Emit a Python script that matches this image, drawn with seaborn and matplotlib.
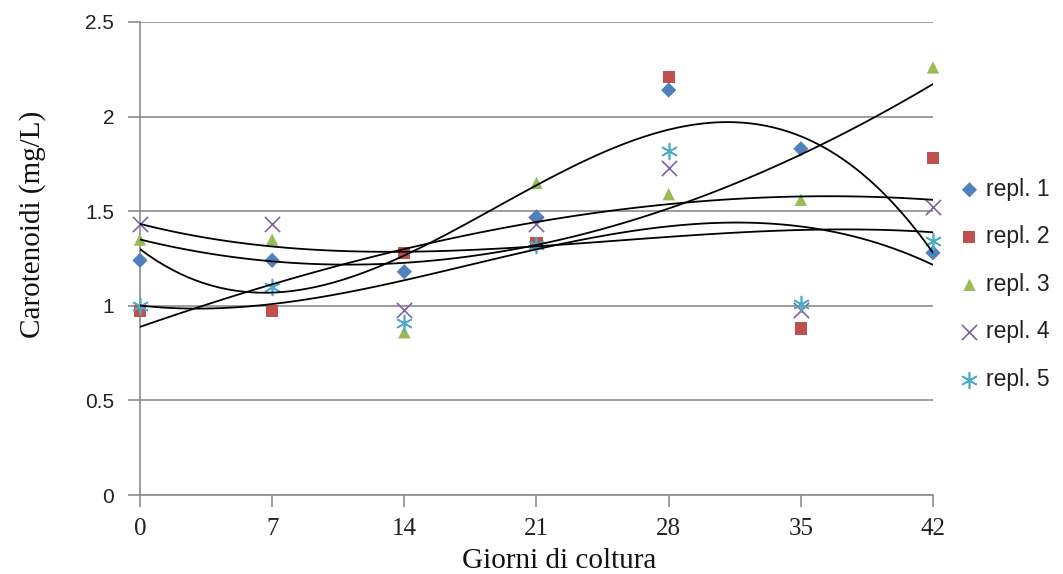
import numpy as np
import pandas as pd
import matplotlib
matplotlib.use("Agg")
import matplotlib.pyplot as plt
import seaborn as sns

# Culture days and carotenoid readings for each replicate (mg/L)
giorni = [0, 7, 14, 21, 28, 35, 42]
repl_1 = [1.24, 1.24, 1.18, 1.47, 2.14, 1.83, 1.28]
repl_2 = [0.97, 0.97, 1.28, 1.33, 2.21, 0.88, 1.78]
repl_3 = [1.35, 1.35, 0.86, 1.65, 1.59, 1.56, 2.26]
repl_4 = [1.43, 1.43, 0.98, 1.43, 1.73, 0.98, 1.52]
repl_5 = [1.00, 1.10, 0.91, 1.32, 1.82, 1.01, 1.34]

serie = ["repl. 1", "repl. 2", "repl. 3", "repl. 4", "repl. 5"]
valori = [repl_1, repl_2, repl_3, repl_4, repl_5]
colori = ["#4F81BD", "#C0504D", "#9BBB59", "#8064A2", "#4BACC6"]
marcatori = ["D", "s", "^", "x", (6, 2, 0)]
dimensioni = [60, 75, 80, 120, 130]

df = pd.DataFrame({
    "giorno": np.tile(giorni, len(serie)),
    "valore": np.concatenate(valori),
    "serie": np.repeat(serie, len(giorni)),
})

sns.set_style("white")
plt.rcParams["font.family"] = ["Liberation Sans", "DejaVu Sans"]

fig = plt.figure(figsize=(10.63, 5.74), dpi=100)
ax = fig.add_axes([0.1317, 0.1376, 0.7460, 0.8241])

for nome, col, mk, sz in zip(serie, colori, marcatori, dimensioni):
    sub = df[df["serie"] == nome]
    lw = 1.2 if (mk == "x" or isinstance(mk, tuple)) else 0
    sns.scatterplot(data=sub, x="giorno", y="valore", ax=ax, color=col,
                    marker=mk, s=sz, linewidth=lw, edgecolor=col if lw else "none",
                    label=nome, zorder=3, clip_on=False)

# third-order polynomial trendline for every replicate
for nome in serie:
    sub = df[df["serie"] == nome]
    sns.regplot(data=sub, x="giorno", y="valore", ax=ax, order=3, ci=None,
                scatter=False, truncate=True,
                line_kws={"color": "black", "lw": 1.3, "zorder": 4})

ax.set_xlim(0, 42)
ax.set_ylim(0, 2.5)
ax.set_xticks(giorni)
ax.set_yticks([0, 0.5, 1, 1.5, 2, 2.5])
ax.set_yticklabels(["0", "0.5", "1", "1.5", "2", "2.5"])
ax.yaxis.grid(True, color="#8c8c8c", lw=1.2)
ax.xaxis.grid(False)
ax.set_axisbelow(True)

for s in ("top", "right"):
    ax.spines[s].set_visible(False)
for s in ("left", "bottom"):
    ax.spines[s].set_color("#8c8c8c")
    ax.spines[s].set_linewidth(1.2)

ax.tick_params(axis="y", which="major", direction="out", length=8.5, width=1.2,
               color="#8c8c8c", left=True, labelsize=15, pad=10, labelcolor="#222222")
ax.tick_params(axis="x", which="major", direction="out", length=8.5, width=1.2,
               color="#8c8c8c", bottom=True, pad=8, labelcolor="#222222")
for t in ax.get_xticklabels():
    t.set_fontfamily("Liberation Serif")
    t.set_fontsize(18)

ax.set_xlabel("Giorni di coltura", family="Liberation Serif", fontsize=21,
              color="#111111")
ax.xaxis.label.set_va("center")
ax.xaxis.set_label_coords(0.528, -0.139)
ax.set_ylabel("Carotenoidi (mg/L)", family="Liberation Serif", fontsize=21,
              color="#111111")
ax.yaxis.label.set_va("center")
ax.yaxis.set_label_coords(-0.136, 0.573)

leg = ax.legend(loc="upper left", bbox_to_anchor=(1.02, 0.69), frameon=False,
                fontsize=16.5, handletextpad=0.2, labelspacing=1.07,
                handlelength=1.0, borderaxespad=0, markerscale=1.0)
for t in leg.get_texts():
    t.set_color("#222222")

fig.savefig("out.png", dpi=100)
